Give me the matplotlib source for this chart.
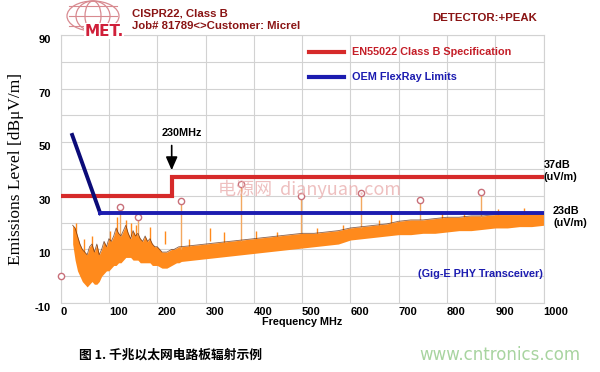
"""Radiated emissions scan of a Gig-E PHY board vs. EN55022 Class B and OEM limits."""
import matplotlib
matplotlib.use("Agg")
import matplotlib.pyplot as plt
from matplotlib.patches import Ellipse

plt.rcParams["font.family"] = ["Liberation Sans", "DejaVu Sans"]

# ----------------- Data -------------------------------------------------
red_freq = [0, 230, 230, 1000]
red_level = [30, 30, 37, 37]

blue_freq = [24, 82, 1000]
blue_level = [52.7, 23.5, 23.5]

env_freq = [25, 30, 35, 40, 45, 50, 55, 60, 65, 70, 75, 80, 85, 90, 95,
            100, 105, 110, 115, 120, 125, 130, 135, 140, 145, 150, 155,
            160, 165, 170, 175, 180, 185, 190, 195, 200, 205, 210, 215,
            220, 225, 230, 235, 240, 245, 250,
            275, 300, 325, 350, 375, 400, 425, 450, 475, 500, 525, 550,
            575, 600, 625, 650, 675, 700, 725, 750, 775, 800, 825, 850,
            875, 900, 925, 950, 975, 1000]
env_low = [12, 6, 2, 0, -2, -3, -4, -3, -2, -3, -3, -2, 0, 1, 2,
           2, 3, 4, 4, 5, 5, 6, 7, 7, 7, 6, 6,
           6, 5, 5, 5, 5, 5, 4, 4, 4, 3.5, 3, 3,
           3, 3.5, 4, 4.5, 5, 5, 5.5,
           6, 6.5, 7, 7.5, 8, 8.5, 9, 9.5, 10, 10.5, 11, 11.5,
           12, 13.5, 14, 14.5, 15, 15.5, 15.5, 16, 16, 16.5, 17, 17,
           17.5, 18, 18, 18.5, 18.5, 19]
env_high = [19, 18, 15, 12, 10, 9, 8, 11, 12, 9, 12, 8, 10, 13, 11,
            14, 13, 15, 18, 16, 15, 17, 19, 16, 14, 17, 15,
            16, 14, 13, 15, 13, 14, 12, 11, 11, 10, 9, 9,
            9, 9.5, 10, 10, 10.5, 11, 11,
            11.5, 12, 12.5, 13, 13.5, 14, 14.5, 15, 15.5, 16, 16, 16.5,
            17, 18, 18.5, 19, 19.5, 20.5, 21, 21, 21.5, 22, 22, 22.5,
            22.5, 23, 23, 23, 23.5, 23.5]

spike_freq = [32, 48, 66, 103, 117, 135, 145, 157, 186, 217, 265, 310,
              338, 405, 447, 530, 585, 660, 685, 790, 835, 905, 960]
spike_top = [20, 14, 15, 17, 22, 21, 20, 19, 18.5, 17, 14, 18,
             16.5, 17, 16.5, 18, 19, 21, 23.5, 23.5, 24, 25, 25.5]

mark_freq = [124, 160, 249, 373, 498, 621, 745, 870]
mark_level = [26, 22, 28, 34.5, 30, 31, 28.5, 31.5]
mark_base = [15, 15, 10, 13, 16, 18, 21, 22]

ytick_vals = [90, 70, 50, 30, 10, -10]
xtick_vals = [0, 100, 200, 300, 400, 500, 600, 700, 800, 900, 1000]

C = {
    "red": "#d62a2a",
    "blue": "#1c1cb0",
    "navy": "#0b0b78",
    "orange": "#ff8a1c",
    "dark": "#5a2000",
    "stem": "#f2a860",
    "mark": "#c8707a",
    "head": "#8a1414",
    "grid": "#d2d2d2",
}

# ----------------- Figure ------------------------------------------------
fig = plt.figure(figsize=(6.0, 3.72), dpi=100)
fig.patch.set_facecolor("white")
ax = fig.add_axes([0.101, 0.1855, 0.805, 0.7204])

# emissions trace
ax.fill_between(env_freq, env_low, env_high, color=C["orange"], lw=0, zorder=2)
ax.plot(env_freq, env_high, color=C["dark"], lw=0.6, alpha=0.7, zorder=3)
ax.vlines(spike_freq, [h - 5 for h in spike_top], spike_top,
          color=C["orange"], lw=1.0, zorder=2)
ax.vlines(mark_freq, mark_base, mark_level, color=C["stem"], lw=1.0, zorder=2)
ax.plot(mark_freq, mark_level, "o", ms=4.5, mfc="white", mec=C["mark"],
        mew=1.0, zorder=4)
ax.plot([0], [0], "o", ms=4.5, mfc="white", mec=C["mark"], mew=1.0,
        zorder=4, clip_on=False)

# limit lines
ax.plot(red_freq, red_level, color=C["red"], lw=3.0, zorder=5,
        solid_joinstyle="miter")
ax.plot(blue_freq[:2], blue_level[:2], color=C["navy"], lw=2.8, zorder=5)
ax.plot(blue_freq[1:], blue_level[1:], color=C["blue"], lw=2.8, zorder=5)

# legend drawn inside the plot
ax.plot([514, 586], [83.7, 83.7], color=C["red"], lw=3.0)
ax.text(603, 83.7, "EN55022 Class B Specification", color="#c41e28",
        fontsize=7.8, fontweight="bold", va="center", ha="left")
ax.plot([514, 586], [74.3, 74.3], color=C["blue"], lw=3.0)
ax.text(603, 74.3, "OEM FlexRay Limits", color=C["blue"],
        fontsize=7.8, fontweight="bold", va="center", ha="left")

# 230 MHz marker
ax.annotate("", xy=(230, 38.5), xytext=(230, 49.8),
            arrowprops=dict(arrowstyle="-|>,head_width=0.35,head_length=0.8",
                            color="black", lw=1.2))
ax.text(250, 53.5, "230MHz", fontsize=7.8, fontweight="bold", ha="center",
        va="center")
ax.text(870, 1, "(Gig-E PHY Transceiver)", color=C["blue"], fontsize=7.8,
        fontweight="bold", ha="center", va="center")

# axes / grid
ax.set_xlim(0, 1000)
ax.set_ylim(-10, 90)
ax.set_xticks(xtick_vals)
ax.set_yticks(list(range(-10, 91, 10)))
ax.set_yticklabels([str(v) if v in ytick_vals else "" for v in range(-10, 91, 10)],
                   va="top")
ax.set_xticklabels([str(v) for v in xtick_vals], ha="left")
ax.tick_params(length=0, labelsize=8)
ax.tick_params(axis="y", pad=7)
ax.tick_params(axis="x", pad=3)
for lab in ax.get_xticklabels() + ax.get_yticklabels():
    lab.set_fontweight("bold")
ax.grid(True, color=C["grid"], lw=0.8)
ax.set_axisbelow(True)
for sp in ax.spines.values():
    sp.set_color(C["grid"])
    sp.set_linewidth(0.8)
ax.set_xlabel("Frequency MHz", fontsize=7.8, fontweight="bold", labelpad=0)
ax.set_ylabel("Emissions Level [dB\u03bcV/m]", family="Liberation Serif",
              fontsize=12.5, labelpad=8)

# right-hand annotations
fig.text(544 / 600, 1 - 165 / 372, "37dB", fontsize=7.8, fontweight="bold",
         va="center")
fig.text(544 / 600, 1 - 177 / 372, "(uV/m)", fontsize=7.8, fontweight="bold",
         va="center")
fig.text(553 / 600, 1 - 211 / 372, "23dB", fontsize=7.8, fontweight="bold",
         va="center")
fig.text(553 / 600, 1 - 223 / 372, "(uV/m)", fontsize=7.8, fontweight="bold",
         va="center")

# header
fig.text(132 / 600, 1 - 13 / 372, "CISPR22, Class B", color=C["head"],
         fontsize=8.2, fontweight="bold", va="center")
fig.text(132 / 600, 1 - 26 / 372, "Job# 81789<>Customer: Micrel",
         color=C["head"], fontsize=8.2, fontweight="bold", va="center")
fig.text(537 / 600, 1 - 18 / 372, "DETECTOR:+PEAK", color=C["head"],
         fontsize=8.2, fontweight="bold", va="center", ha="right")

# MET logo
lax = fig.add_axes([62 / 600, 1 - 38 / 372, 62 / 600, 38 / 372])
lax.set_xlim(0, 62)
lax.set_ylim(0, 38)
lax.axis("off")
for w in (52, 34, 16):
    lax.add_patch(Ellipse((31, 22), w, 30, fill=False, ec="#d88a90", lw=0.9))
for yy in (12, 22, 32):
    lax.plot([7, 55], [yy, yy], color="#d88a90", lw=0.8)
lax.text(42, 7, "MET.", color="#d0203a", fontsize=11, fontweight="bold",
         ha="center", va="center", family="DejaVu Sans",
         bbox=dict(fc="white", ec="none", pad=0.1))

# watermarks
fig.text(218 / 600, 1 - 189 / 372, "\u7535\u6e90\u7f51  dianyuan.com",
         color="#eab0b0", alpha=0.8, fontsize=13,
         family=["Noto Sans CJK SC", "DejaVu Sans"], va="center")
fig.text(419 / 600, 1 - 355 / 372, "www.cntronics.com", color="#a8d4a0",
         fontsize=12, family="DejaVu Sans", va="center")

# caption
fig.text(79 / 600, 1 - 355 / 372, "\u56fe 1. \u5343\u5146\u4ee5\u592a\u7f51\u7535\u8def\u677f\u8f90\u5c04\u793a\u4f8b",
         fontsize=9.2, fontweight="bold",
         family=["Noto Sans CJK SC", "DejaVu Sans"], va="center")

fig.savefig("out.png", dpi=100, facecolor="white")
